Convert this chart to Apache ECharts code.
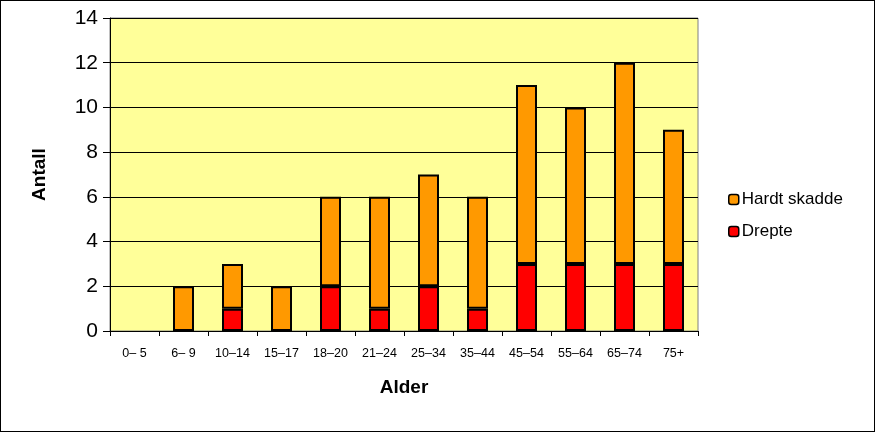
<!DOCTYPE html>
<html><head><meta charset="utf-8">
<script src="https://cdn.jsdelivr.net/npm/echarts@6/dist/echarts.min.js"></script>
<style>html,body{margin:0;padding:0;background:#fff}#c{width:875px;height:432px;box-sizing:border-box;border:1px solid #000}</style>
</head><body><div id="c"></div>
<script>
var categories = ['0\u2013 5','6\u2013 9','10\u201314','15\u201317','18\u201320','21\u201324','25\u201334','35\u201344','45\u201354','55\u201364','65\u201374','75+'];
var drepte = [0,0,1,0,2,1,2,1,3,3,3,3];
var hardtSkadde = [0,2,2,2,4,5,5,5,8,7,9,6];
var yTicks = [0,2,4,6,8,10,12,14];

function hideZero(arr){ return arr.map(function(v){ return v === 0 ? '-' : v; }); }

var chart = echarts.init(document.getElementById('c'), null, {renderer:'canvas'});
chart.setOption({
  animation:false,
  backgroundColor:'#fff',
  textStyle:{fontFamily:'Liberation Sans, Arial, sans-serif'},
  grid:{left:109,right:176,top:17,bottom:100,show:true,backgroundColor:'#FFFF99',borderColor:'#808080',borderWidth:1},
  legend:{
    orient:'vertical', left:722, top:185, itemWidth:10, itemHeight:10, itemGap:15,
    data:['Hardt skadde','Drepte'],
    textStyle:{fontSize:17,color:'#000',fontFamily:'Liberation Sans, Arial, sans-serif',padding:[0,0,0,-2]},
    itemStyle:{borderColor:'#000',borderWidth:1.5}
  },
  xAxis:{
    type:'category', data:categories,
    name:'Alder', nameLocation:'middle', nameGap:47,
    nameTextStyle:{fontSize:19,fontWeight:'bold',color:'#000'},
    axisLine:{lineStyle:{color:'#000',width:1}},
    axisTick:{show:true,length:5,lineStyle:{color:'#000'}},
    axisLabel:{fontSize:12.5,color:'#000',margin:16,interval:0}
  },
  yAxis:{
    type:'value', min:0, max:14, interval:2,
    name:'Antall', nameLocation:'middle', nameGap:61, nameRotate:90,
    nameTextStyle:{fontSize:19,fontWeight:'bold',color:'#000'},
    axisLine:{show:true,lineStyle:{color:'#000',width:1}},
    axisTick:{show:true,length:7,lineStyle:{color:'#000'}},
    axisLabel:{fontSize:21,color:'#000',margin:12,formatter:function(v){return yTicks.indexOf(v)>=0?String(v):'';}},
    splitLine:{show:true,lineStyle:{color:'#000',width:1}}
  },
  series:[
    {name:'Drepte',type:'bar',stack:'a',data:hideZero(drepte),barWidth:21,
      itemStyle:{color:'#FF0000',borderColor:'#000',borderWidth:2}},
    {name:'Hardt skadde',type:'bar',stack:'a',data:hideZero(hardtSkadde),barWidth:21,
      itemStyle:{color:'#FF9900',borderColor:'#000',borderWidth:2}}
  ]
});
</script></body></html>
